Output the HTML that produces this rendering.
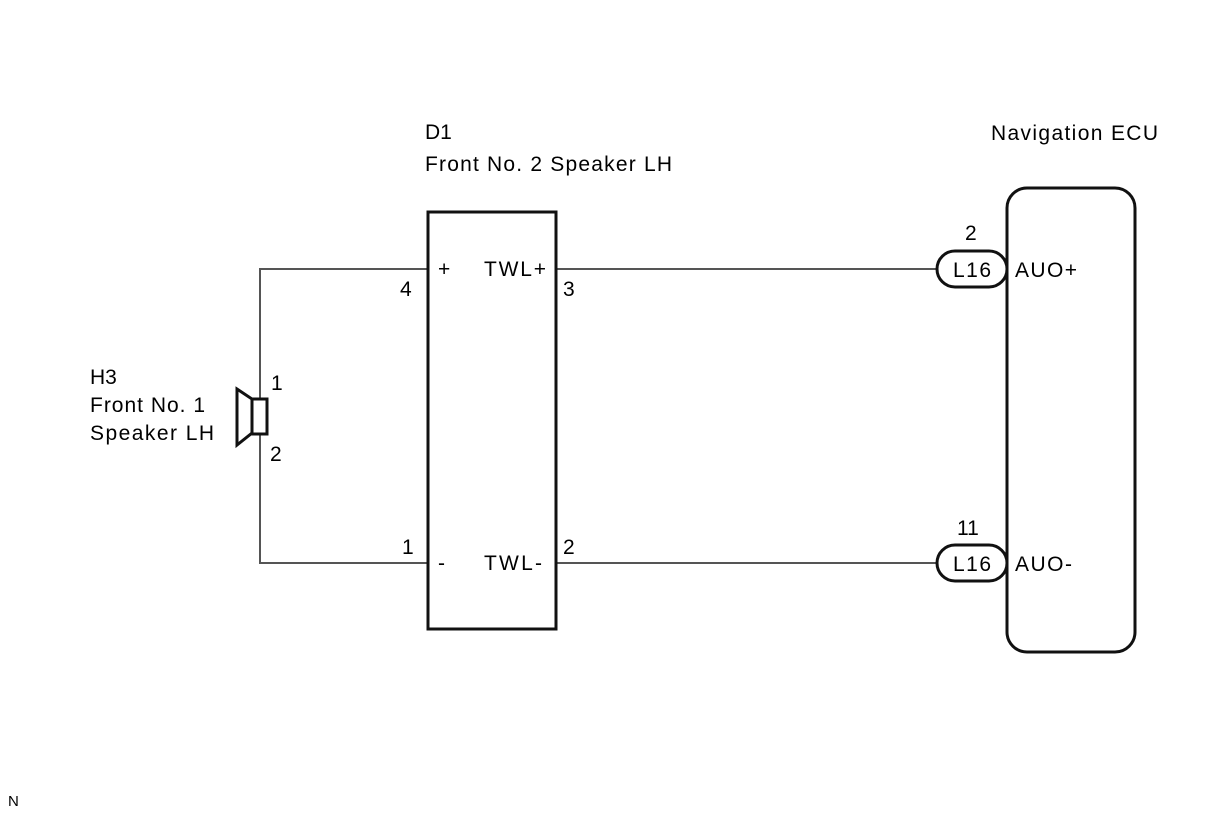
<!DOCTYPE html>
<html><head><style>body{margin:0;background:#fff}</style></head><body>
<svg width="1210" height="814" xmlns="http://www.w3.org/2000/svg" font-family="Liberation Sans, sans-serif" font-size="21" fill="#000">
<rect width="1210" height="814" fill="#fff"/>
<g stroke="#555" stroke-width="2" fill="none">
<polyline points="429,269 260,269 260,563 429,563"/>
<line x1="556" y1="269" x2="937" y2="269"/>
<line x1="556" y1="563" x2="937" y2="563"/>
</g>
<g stroke="#111" stroke-width="3" fill="#fff">
<rect x="428" y="212" width="128" height="417"/>
<rect x="1007" y="188" width="128" height="464" rx="20"/>
<rect x="937" y="251" width="70" height="36" rx="18"/>
<rect x="937" y="545" width="70" height="36" rx="18"/>
<polygon points="237,389 252,399 252,433 237,445"/>
<rect x="252" y="399" width="15" height="35"/>
</g>
<text x="425" y="139">D1</text>
<text x="425" y="171" textLength="247">Front No. 2 Speaker LH</text>
<text x="991" y="140" textLength="167">Navigation ECU</text>
<text x="90" y="384">H3</text>
<text x="90" y="412" textLength="115">Front No. 1</text>
<text x="90" y="440" textLength="124">Speaker LH</text>
<text x="271" y="390">1</text>
<text x="270" y="461">2</text>
<text x="400" y="296">4</text>
<text x="438" y="276">+</text>
<text x="484" y="276" textLength="62">TWL+</text>
<text x="563" y="296">3</text>
<text x="402" y="554">1</text>
<text x="438" y="570">-</text>
<text x="484" y="570" textLength="58">TWL-</text>
<text x="563" y="554">2</text>
<text x="965" y="240">2</text>
<text x="953" y="277" textLength="38">L16</text>
<text x="1015" y="277" textLength="62">AUO+</text>
<text x="957" y="535">11</text>
<text x="953" y="571" textLength="38">L16</text>
<text x="1015" y="571" textLength="57">AUO-</text>
<text x="8" y="806" font-size="15">N</text>
</svg>
</body></html>
